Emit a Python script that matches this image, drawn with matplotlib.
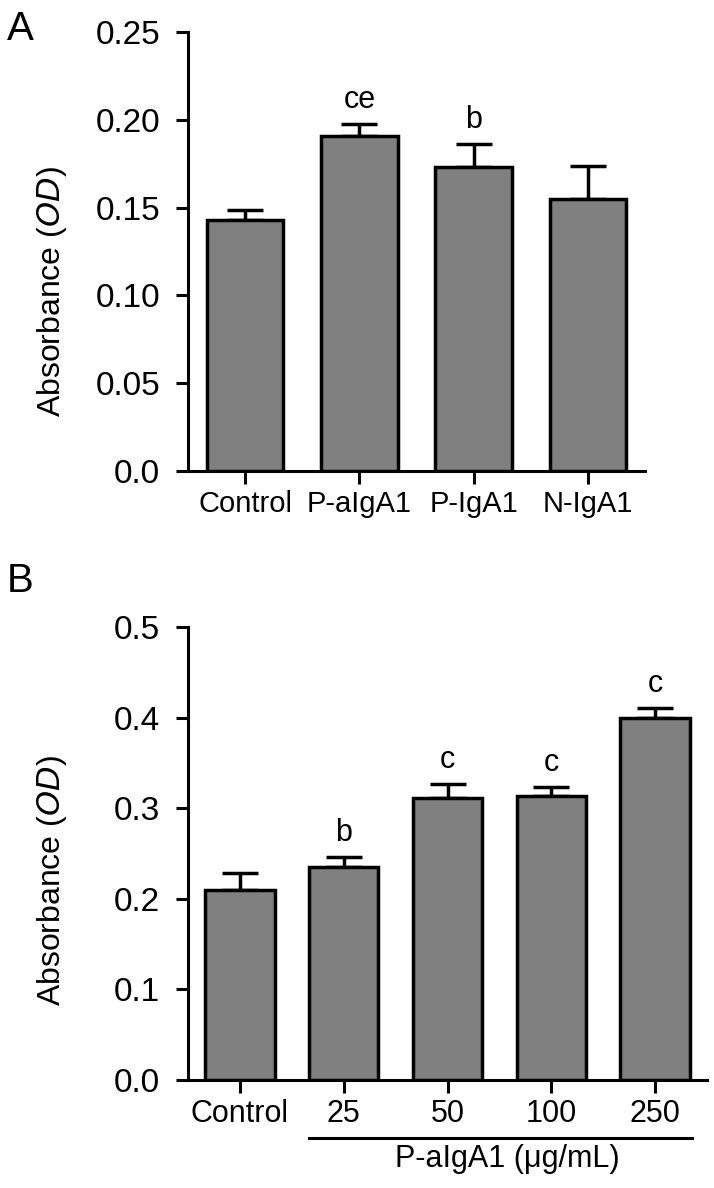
import matplotlib
matplotlib.use("Agg")
import matplotlib.pyplot as plt
import matplotlib.transforms as mtransforms
import numpy as np

# panel A data
a_groups = ["Control", "P-aIgA1", "P-IgA1", "N-IgA1"]
a_means = [0.143, 0.191, 0.173, 0.155]
a_errs = [0.0055, 0.0065, 0.0135, 0.0185]
a_marks = ["", "ce", "b", ""]

# panel B data
b_groups = ["Control", "25", "50", "100", "250"]
b_means = [0.210, 0.235, 0.311, 0.314, 0.400]
b_errs = [0.018, 0.0115, 0.0155, 0.0095, 0.0105]
b_marks = ["", "b", "c", "c", "c"]

plt.rcParams["font.family"] = ["Liberation Sans", "DejaVu Sans"]

fig = plt.figure(figsize=(7.14, 11.88), dpi=100)
axA = fig.add_axes([0.2633, 0.6035, 0.640, 0.3695])
axB = fig.add_axes([0.2633, 0.0909, 0.727, 0.3813])


def draw(ax, groups, means, errs, marks, ymax, step, fmt, xfs, lab_xy):
    x = np.arange(len(groups))
    ax.bar(x, means, width=0.67, color="#808080", edgecolor="black",
           linewidth=2.5, zorder=3)
    ax.errorbar(x, means, yerr=[np.zeros(len(errs)), errs], fmt="none",
                ecolor="black", elinewidth=2.5, capsize=13, capthick=2.5,
                zorder=2)
    for xi, m, e, t in zip(x, means, errs, marks):
        if t:
            ax.text(xi, m + e + ymax * 0.02, t, ha="center", va="bottom",
                    fontsize=22)
    ax.set_xlim(-0.5, len(groups) - 0.5)
    ax.set_ylim(0, ymax)
    ticks = np.arange(0, ymax + step / 2, step)
    ax.set_yticks(ticks)
    ax.set_yticklabels([fmt.format(t) if t > 0 else "0.0" for t in ticks])
    ax.set_xticks(x)
    ax.set_xticklabels(groups)
    for s in ["top", "right"]:
        ax.spines[s].set_visible(False)
    for s in ["left", "bottom"]:
        ax.spines[s].set_linewidth(2.2)
    ax.tick_params(axis="y", labelsize=24, width=2.2, length=9, pad=11)
    ax.tick_params(axis="x", labelsize=xfs, width=2.2, length=9, pad=5)
    ax.set_ylabel("Absorbance ($\\it{OD}$)", fontsize=23, va="center")
    ax.yaxis.set_label_coords(*lab_xy)


draw(axA, a_groups, a_means, a_errs, a_marks, 0.25, 0.05, "{:.2f}", 21,
     (-0.298, 0.41))
draw(axB, b_groups, b_means, b_errs, b_marks, 0.5, 0.1, "{:.1f}", 22,
     (-0.262, 0.44))

# dose underline for panel B
trans = mtransforms.blended_transform_factory(axB.transData, axB.transAxes)
axB.plot([0.67, 4.35], [-0.128, -0.128], color="black", lw=2.2,
         transform=trans, clip_on=False)
axB.text(2.58, -0.142, "P-aIgA1 (\u03bcg/mL)", ha="center", va="top",
         fontsize=22, transform=trans)

fig.text(0.01, 0.992, "A", fontsize=29, ha="left", va="top")
fig.text(0.01, 0.527, "B", fontsize=29, ha="left", va="top")

fig.savefig("out.png", dpi=100)
